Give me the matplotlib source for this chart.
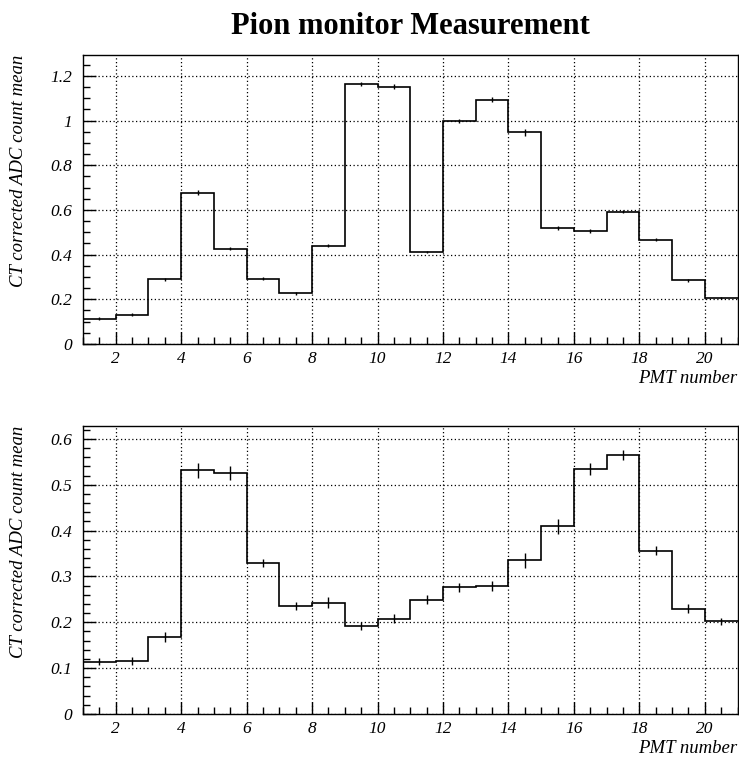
import numpy as np
import matplotlib
matplotlib.use("Agg")
import matplotlib.pyplot as plt
from matplotlib.ticker import MultipleLocator, FuncFormatter

# PMT bins 1..21 (20 channels)
edges = np.arange(1, 22)

top_mean = [0.114, 0.132, 0.290, 0.678, 0.427, 0.293, 0.227, 0.441, 1.163, 1.152,
            0.412, 0.998, 1.094, 0.947, 0.519, 0.508, 0.592, 0.466, 0.285, 0.205]
top_err = [0.005, 0.005, 0.006, 0.013, 0.008, 0.006, 0.006, 0.007, 0.010, 0.012,
           0.006, 0.008, 0.010, 0.015, 0.010, 0.009, 0.007, 0.007, 0.007, 0.005]

bot_mean = [0.114, 0.116, 0.168, 0.531, 0.526, 0.329, 0.236, 0.243, 0.192, 0.208,
            0.249, 0.276, 0.279, 0.335, 0.409, 0.534, 0.564, 0.356, 0.230, 0.202]
bot_err = [0.008, 0.009, 0.011, 0.016, 0.015, 0.008, 0.009, 0.012, 0.009, 0.010,
           0.010, 0.010, 0.010, 0.017, 0.017, 0.013, 0.011, 0.010, 0.010, 0.007]

title = "Pion monitor Measurement"
ylabel = "CT corrected ADC count mean"
xlabel = "PMT number"

serif = ["Liberation Serif", "DejaVu Serif"]
plt.rcParams["font.family"] = serif
plt.rcParams["font.style"] = "italic"

fig = plt.figure(figsize=(7.39, 7.60), dpi=100)


def panel(rect, mean, err, ymax, ymajor, yminor):
    ax = fig.add_axes(rect)
    centers = 0.5 * (edges[:-1] + edges[1:])
    ax.stairs(mean, edges, baseline=None, color="black", linewidth=1.2)
    ax.errorbar(centers, mean, yerr=err, fmt="none", ecolor="black",
                elinewidth=1.0, capsize=0)
    ax.set_xlim(1, 21)
    ax.set_ylim(0, ymax)
    ax.xaxis.set_major_locator(MultipleLocator(2))
    ax.xaxis.set_minor_locator(MultipleLocator(0.5))
    ax.yaxis.set_major_locator(MultipleLocator(ymajor))
    ax.yaxis.set_minor_locator(MultipleLocator(yminor))
    ax.yaxis.set_major_formatter(FuncFormatter(lambda v, p: "%g" % round(v, 3)))
    ax.grid(True, which="major", color="black", linestyle=(0, (1, 2)),
            linewidth=0.9)
    ax.tick_params(which="both", direction="in", top=False, right=False,
                   labelsize=12.5)
    ax.tick_params(which="major", length=9, width=1.0)
    ax.tick_params(which="minor", length=5, width=1.0)
    ax.tick_params(axis="y", pad=8)
    ax.tick_params(axis="x", pad=5)
    for s in ax.spines.values():
        s.set_linewidth(1.0)
    ax.set_ylabel(ylabel, fontsize=13.5)
    ax.yaxis.set_label_coords(-0.086, 1.0)
    ax.yaxis.label.set_horizontalalignment("right")
    ax.set_xlabel(xlabel, fontsize=13.5)
    ax.xaxis.set_label_coords(1.0, -0.09)
    ax.xaxis.label.set_horizontalalignment("right")
    return ax


ax1 = panel([83 / 739, 1 - 344 / 760, 654.5 / 739, 289 / 760],
            top_mean, top_err, 1.294, 0.2, 0.05)
ax2 = panel([83 / 739, 1 - 714 / 760, 654.5 / 739, 288 / 760],
            bot_mean, bot_err, 0.628, 0.1, 0.02)

fig.text(410 / 739, 1 - 27 / 760, title, weight="bold", style="normal",
         fontsize=22, ha="center", va="center")

fig.savefig("out.png", dpi=100)
